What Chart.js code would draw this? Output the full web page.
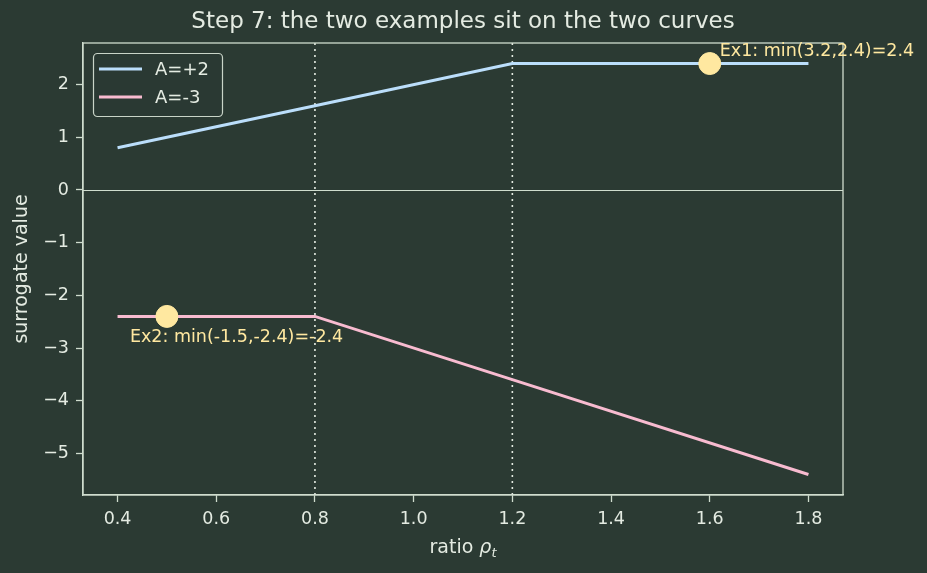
<!DOCTYPE html>
<html>
<head>
<meta charset="utf-8">
<script src="https://cdn.jsdelivr.net/npm/chart.js@4.4.1/dist/chart.umd.min.js"></script>
<style>
  html, body { margin: 0; padding: 0; background: #2b3a33; }
  #wrap { width: 927px; height: 573px; }
</style>
</head>
<body>
<div id="wrap"><canvas id="chart"></canvas></div>
<script>
// ratio values and surrogate curves
const ratios = [0.4, 0.8, 1.2, 1.8];
const posAdv = [0.8, 1.6, 2.4, 2.4];     // A=+2
const negAdv = [-2.4, -2.4, -3.6, -5.4]; // A=-3
const examples = [
  { x: 1.6, y: 2.4, label: "Ex1: min(3.2,2.4)=2.4" },
  { x: 0.5, y: -2.4, label: "Ex2: min(-1.5,-2.4)=-2.4" },
];
const clipBounds = [0.8, 1.2];
const xTicks = [0.4, 0.6, 0.8, 1.0, 1.2, 1.4, 1.6, 1.8];
const yTicks = [-5, -4, -3, -2, -1, 0, 1, 2];

const BG = "#2b3a33";
const FG = "#e4ebe2";
const FRAME = "#cfdcce";
const BLUE = "#bbdefb";
const PINK = "#f8bbd0";
const GOLD = "#ffe8a0";
const FONT = "'DejaVu Sans', sans-serif";

const decor = {
  id: "decor",
  beforeDraw(chart) {
    const { ctx, width, height } = chart;
    ctx.save();
    ctx.fillStyle = BG;
    ctx.fillRect(0, 0, width, height);
    ctx.restore();
  },
  beforeDatasetsDraw(chart) {
    const { ctx, chartArea: a, scales: { x, y } } = chart;
    ctx.save();
    // zero line
    ctx.strokeStyle = FRAME;
    ctx.lineWidth = 1.2;
    const y0 = Math.round(y.getPixelForValue(0)) + 0.5;
    ctx.beginPath(); ctx.moveTo(a.left, y0); ctx.lineTo(a.right, y0); ctx.stroke();
    // clip bounds
    ctx.strokeStyle = FG;
    ctx.lineWidth = 1.6;
    ctx.setLineDash([2, 4]);
    clipBounds.forEach(v => {
      const px = x.getPixelForValue(v);
      ctx.beginPath(); ctx.moveTo(px, a.top); ctx.lineTo(px, a.bottom); ctx.stroke();
    });
    ctx.restore();
  },
  afterDraw(chart) {
    const { ctx, chartArea: a, scales: { x, y } } = chart;
    ctx.save();
    // frame
    ctx.strokeStyle = FRAME;
    ctx.lineWidth = 1.3;
    ctx.strokeRect(a.left, a.top, a.right - a.left, a.bottom - a.top);

    // title
    ctx.fillStyle = FG;
    ctx.font = "23px " + FONT;
    ctx.textAlign = "center";
    ctx.textBaseline = "middle";
    ctx.fillText("Step 7: the two examples sit on the two curves", (a.left + a.right) / 2, 22);

    // axis titles
    ctx.textAlign = "left";
    const cx = (a.left + a.right) / 2;
    const base = "ratio ";
    ctx.font = "19px " + FONT;
    const w1 = ctx.measureText(base).width;
    ctx.font = "italic 19px " + FONT;
    const w2 = ctx.measureText("ρ").width;
    ctx.font = "italic 13px " + FONT;
    const w3 = ctx.measureText("t").width;
    const sx = cx - (w1 + w2 + w3) / 2;
    ctx.font = "19px " + FONT;
    ctx.fillText(base, sx, 548);
    ctx.font = "italic 19px " + FONT;
    ctx.fillText("ρ", sx + w1, 548);
    ctx.font = "italic 13px " + FONT;
    ctx.fillText("t", sx + w1 + w2, 554);

    ctx.save();
    ctx.translate(22, (a.top + a.bottom) / 2);
    ctx.rotate(-Math.PI / 2);
    ctx.textAlign = "center";
    ctx.font = "19px " + FONT;
    ctx.fillText("surrogate value", 0, 0);
    ctx.restore();

    // annotations
    ctx.fillStyle = GOLD;
    ctx.font = "17.5px " + FONT;
    ctx.textAlign = "left";
    const p1 = examples[0], p2 = examples[1];
    ctx.fillText(p1.label, x.getPixelForValue(p1.x) + 10, y.getPixelForValue(p1.y) - 12);
    ctx.fillText(p2.label, x.getPixelForValue(p2.x) - 37, y.getPixelForValue(p2.y) + 21);

    // legend
    const lx = 93, ly = 53, lw = 129, lh = 63;
    ctx.beginPath();
    ctx.roundRect(lx + 0.5, ly + 0.5, lw, lh, 4);
    ctx.fillStyle = "rgba(43,58,51,0.8)";
    ctx.fill();
    ctx.strokeStyle = "#c9d4c8";
    ctx.lineWidth = 1.2;
    ctx.stroke();
    const items = [["A=+2", BLUE], ["A=-3", PINK]];
    items.forEach(([t, c], i) => {
      const yy = 69 + i * 28;
      ctx.strokeStyle = c;
      ctx.lineWidth = 3;
      ctx.beginPath(); ctx.moveTo(99, yy); ctx.lineTo(142, yy); ctx.stroke();
      ctx.fillStyle = FG;
      ctx.font = "18px " + FONT;
      ctx.textBaseline = "middle";
      ctx.fillText(t, 155, yy + 1);
    });
    ctx.restore();
  },
};

new Chart(document.getElementById("chart"), {
  type: "line",
  data: {
    datasets: [
      {
        label: "A=+2",
        data: ratios.map((r, i) => ({ x: r, y: posAdv[i] })),
        borderColor: BLUE,
        borderWidth: 3,
        pointRadius: 0,
        tension: 0,
        order: 2,
      },
      {
        label: "A=-3",
        data: ratios.map((r, i) => ({ x: r, y: negAdv[i] })),
        borderColor: PINK,
        borderWidth: 3,
        pointRadius: 0,
        tension: 0,
        order: 2,
      },
      {
        type: "scatter",
        label: "examples",
        data: examples.map(e => ({ x: e.x, y: e.y })),
        backgroundColor: GOLD,
        borderColor: GOLD,
        pointRadius: 11,
        order: 1,
      },
    ],
  },
  options: {
    responsive: true,
    maintainAspectRatio: false,
    animation: false,
    layout: { padding: { top: 43, right: 84, left: 0, bottom: 0 } },
    plugins: {
      legend: { display: false },
      tooltip: { enabled: false },
    },
    scales: {
      x: {
        type: "linear",
        min: 0.33,
        max: 1.87,
        afterBuildTicks: s => { s.ticks = xTicks.map(v => ({ value: v })); },
        afterFit: s => { s.height = 78; },
        grid: { drawOnChartArea: false, drawTicks: true, tickLength: 7, tickWidth: 1.3, color: FRAME },
        border: { color: FRAME, width: 1.3 },
        ticks: {
          color: FG,
          font: { family: FONT, size: 17.5 },
          padding: 7,
          maxRotation: 0,
          callback: v => v.toFixed(1),
        },
      },
      y: {
        min: -5.79,
        max: 2.79,
        afterBuildTicks: s => { s.ticks = yTicks.map(v => ({ value: v })); },
        afterFit: s => { s.width = 83; },
        grid: { drawOnChartArea: false, drawTicks: true, tickLength: 7, tickWidth: 1.3, color: FRAME },
        border: { color: FRAME, width: 1.3 },
        ticks: {
          color: FG,
          font: { family: FONT, size: 17.5 },
          padding: 7,
          callback: v => String(v).replace("-", "\u2212"),
        },
      },
    },
  },
  plugins: [decor],
});
</script>
</body>
</html>
